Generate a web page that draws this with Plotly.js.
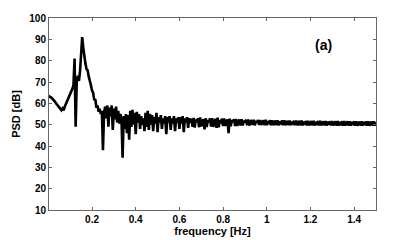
<!DOCTYPE html>
<html>
<head>
<meta charset="utf-8">
<script src="https://cdn.plot.ly/plotly-3.0.1.min.js"></script>
<style>html,body{margin:0;padding:0;background:#fff;}#chart{width:403px;height:240px;}</style>
</head>
<body>
<div id="chart"></div>
<script>
// PSD values [dB], sampled every 0.005 Hz starting at 0 Hz
const freqStep = 0.005;
const psdValues = [
  63.5, 63.3, 63.0, 62.6, 62.0, 61.5, 60.8, 60.0, 59.3, 58.6,
  58.2, 57.4, 56.8, 57.6, 56.7, 58.4, 59.6, 60.4, 61.9, 62.4,
  64.2, 65.3, 66.8, 68.5, 81.0, 49.0, 70.0, 73.0, 70.5, 75.0,
  82.0, 91.0, 86.0, 81.0, 78.5, 76.0, 75.5, 72.5, 71.0, 68.5,
  66.0, 65.0, 61.5, 62.0, 58.0, 59.0, 56.0, 57.5, 55.0, 56.5,
  38.0, 55.5, 58.5, 53.0, 59.0, 49.0, 58.0, 54.0, 59.0, 47.5,
  57.5, 52.5, 58.5, 51.0, 56.5, 50.5, 55.0, 52.0, 34.5, 54.0,
  48.0, 55.0, 46.0, 54.5, 43.0, 56.5, 49.0, 57.0, 50.0, 55.5,
  45.5, 56.0, 51.0, 55.0, 48.0, 54.0, 50.0, 53.0, 47.0, 55.5,
  49.0, 56.5, 47.5, 55.0, 50.0, 54.5, 47.0, 53.5, 50.5, 55.5,
  46.5, 53.5, 51.0, 54.5, 48.0, 53.0, 50.5, 54.0, 45.5, 53.5,
  51.0, 54.0, 47.5, 53.0, 50.5, 54.0, 47.0, 53.0, 51.0, 53.5,
  48.0, 53.5, 50.5, 54.0, 46.5, 53.0, 51.0, 53.5, 48.5, 53.0,
  51.0, 52.8, 49.0, 53.2, 48.6, 52.4,
  51.3, 53.0, 48.8, 53.4, 49.2,
  51.0, 52.6, 47.8, 53.0, 48.9, 52.2,
  51.2, 52.9, 49.1, 53.1, 49.0,
  51.1, 52.7, 48.5, 53.3, 48.8, 52.0,
  51.4, 52.8, 49.3, 52.9, 49.4,
  51.0, 52.5, 46.0, 52.8, 49.2, 52.1,
  51.2, 52.6, 49.4, 52.7, 49.5,
  51.0, 52.4, 49.6, 52.5, 49.6, 51.8,
  51.1, 52.3, 49.7, 52.4, 49.6,
  51.0, 52.2, 49.8, 52.3, 49.7, 51.7,
  50.9, 52.2, 49.8, 52.2, 49.8,
  51.0, 52.1, 49.7, 52.3, 49.8, 51.6,
  50.9, 52.0, 49.8, 52.1, 49.8,
  50.8, 51.9, 49.7, 52.0, 49.7, 51.5,
  50.8, 51.9, 49.8, 52.0, 49.8,
  50.8, 51.8, 49.7, 51.9, 49.8, 51.4,
  50.7, 51.8, 49.7, 51.9, 49.7,
  50.7, 51.8, 49.6, 51.9, 49.7, 51.4,
  50.7, 51.7, 49.7, 51.8, 49.7,
  50.7, 51.7, 49.6, 51.8, 49.6, 51.3,
  50.6, 51.7, 49.6, 51.8, 49.7,
  50.6, 51.6, 49.6, 51.7, 49.6, 51.3,
  50.6, 51.6, 49.6, 51.7, 49.6,
  50.6, 51.6, 49.5, 51.7, 49.6, 51.2,
  50.5, 51.6, 49.5, 51.7, 49.6,
  50.5, 51.6, 49.5, 51.6, 49.6, 51.2,
  50.5, 51.5, 49.5, 51.6, 49.5,
  50.5, 51.5, 49.5, 51.6, 49.5, 51.2,
  50.5, 51.5, 49.5, 51.6, 49.5,
  50.5, 51.5, 49.5, 51.6, 49.5, 51.1
];
const freqs = psdValues.map((_, i) => +(i * freqStep).toFixed(4));

const xTickVals = [0.2, 0.4, 0.6, 0.8, 1, 1.2, 1.4];
const xTickText = ['0.2', '0.4', '0.6', '0.8', '1', '1.2', '1.4'];
const yTickVals = [10, 20, 30, 40, 50, 60, 70, 80, 90, 100];

const tickFont = {family: 'Liberation Sans, Arial, sans-serif', size: 10, color: '#000', weight: 'bold'};
const titleFont = {family: 'Liberation Sans, Arial, sans-serif', size: 11, color: '#000', weight: 'bold'};

const trace = {
  x: freqs, y: psdValues, type: 'scatter', mode: 'lines',
  line: {color: '#000', width: 2.6}, hoverinfo: 'skip'
};

const layout = {
  width: 403, height: 240,
  margin: {l: 49, r: 27, t: 18, b: 30},
  paper_bgcolor: '#fff', plot_bgcolor: '#fff',
  showlegend: false,
  xaxis: {
    range: [0.003, 1.5], tickvals: xTickVals, ticktext: xTickText,
    ticks: 'inside', ticklen: 3, tickcolor: '#666',
    showline: true, linecolor: '#666', linewidth: 1, mirror: 'ticks',
    showgrid: false, zeroline: false, tickfont: tickFont,
    title: {text: 'frequency [Hz]', font: titleFont, standoff: 2}
  },
  yaxis: {
    range: [10, 100], tickvals: yTickVals,
    ticks: 'inside', ticklen: 3, tickcolor: '#666',
    showline: true, linecolor: '#666', linewidth: 1, mirror: 'ticks',
    showgrid: false, zeroline: false, tickfont: tickFont,
    title: {text: 'PSD [dB]', font: titleFont, standoff: 6}
  },
  annotations: [{
    x: 1.258, y: 87.3, xref: 'x', yref: 'y', text: '(a)', showarrow: false,
    font: {family: 'Liberation Sans, Arial, sans-serif', size: 14, color: '#000', weight: 'bold'}
  }]
};

Plotly.newPlot('chart', [trace], layout, {displayModeBar: false, staticPlot: true});
</script>
</body>
</html>
